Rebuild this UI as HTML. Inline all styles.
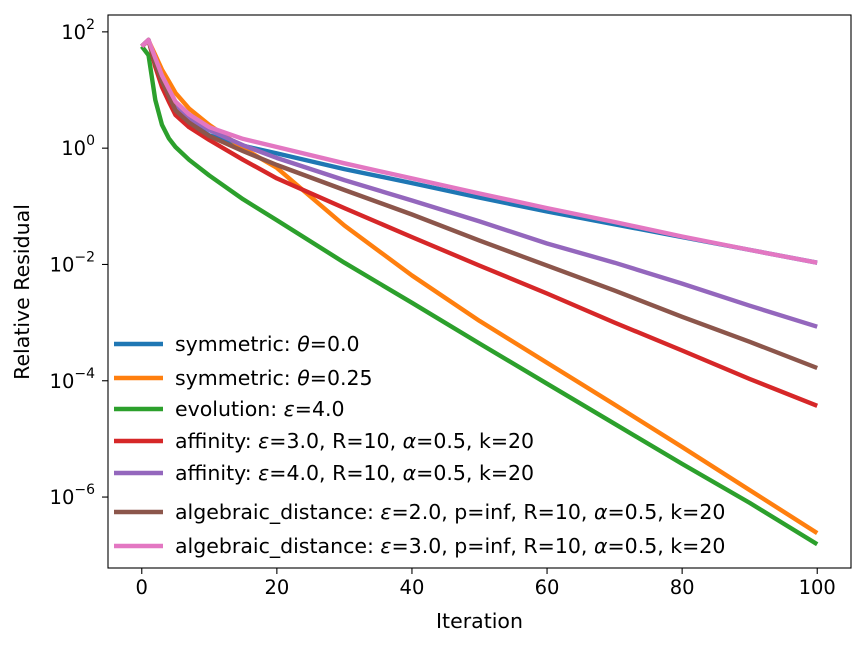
<!DOCTYPE html>
<html><head><meta charset="utf-8"><style>
body{margin:0;background:#fff;}
svg text{font-family:"DejaVu Sans","Liberation Sans",sans-serif;}
</style></head><body>
<svg id="chart" width="866" height="647" viewBox="0 0 866 647" xmlns="http://www.w3.org/2000/svg">
<rect width="866" height="647" fill="#fff"/>
<g id="plot"></g>
<g id="axes"></g>
<g id="legend"></g>
</svg>
<script>
const iters=[0,1,2,3,4,5,7,10,15,20,30,40,50,60,70,80,90,100];
const symm0=[1.75,1.86,1.5,1.2,0.98,0.68,0.45,0.22,0.04,-0.09,-0.36,-0.6,-0.85,-1.09,-1.31,-1.53,-1.75,-1.97];
const symm25=[1.75,1.85,1.6,1.35,1.15,0.95,0.68,0.4,0.0,-0.34,-1.33,-2.19,-2.97,-3.69,-4.41,-5.14,-5.88,-6.62];
const evol=[1.75,1.6,0.83,0.4,0.17,0.02,-0.2,-0.47,-0.88,-1.24,-1.97,-2.66,-3.36,-4.05,-4.74,-5.43,-6.1,-6.81];
const aff3=[1.75,1.86,1.4,1.05,0.8,0.57,0.36,0.14,-0.2,-0.52,-1.03,-1.53,-2.02,-2.5,-3.0,-3.48,-3.97,-4.43];
const aff4=[1.75,1.86,1.5,1.2,0.98,0.72,0.52,0.31,0.05,-0.17,-0.55,-0.9,-1.26,-1.64,-1.97,-2.33,-2.71,-3.07];
const alg2=[1.75,1.86,1.45,1.15,0.9,0.65,0.44,0.21,-0.05,-0.29,-0.72,-1.14,-1.59,-2.02,-2.45,-2.9,-3.33,-3.78];
const alg3=[1.75,1.86,1.55,1.25,1.02,0.8,0.58,0.36,0.16,0.02,-0.26,-0.52,-0.78,-1.03,-1.27,-1.52,-1.75,-1.97];
const seriesNames=[["symmetric: ","θ","=0.0"],["symmetric: ","θ","=0.25"],["evolution: ","ε","=4.0"],["affinity: ","ε","=3.0, R=10, ","α","=0.5, k=20"],["affinity: ","ε","=4.0, R=10, ","α","=0.5, k=20"],["algebraic_distance: ","ε","=2.0, p=inf, R=10, ","α","=0.5, k=20"],["algebraic_distance: ","ε","=3.0, p=inf, R=10, ","α","=0.5, k=20"]];
const xTicks=[0,20,40,60,80,100];
const yLabeled=[2,0,-2,-4,-6];

const colors=["#1f77b4","#ff7f0e","#2ca02c","#d62728","#9467bd","#8c564b","#e377c2"];
const allSeries=[symm0,symm25,evol,aff3,aff4,alg2,alg3];
const L=108,R=851,T=15,B=568;
const xMin=-5,xMax=105,yMin=-7.22,yMax=2.29;
const sx=v=>L+(v-xMin)/(xMax-xMin)*(R-L);
const sy=v=>B-(v-yMin)/(yMax-yMin)*(B-T);
const NS="http://www.w3.org/2000/svg";
function mk(tag,attrs,parent){const e=document.createElementNS(NS,tag);for(const k in attrs)e.setAttribute(k,attrs[k]);parent.appendChild(e);return e;}
const plot=document.getElementById('plot'),axes=document.getElementById('axes'),legend=document.getElementById('legend');
allSeries.forEach((s,i)=>{
  const d=s.map((v,j)=>(j?'L':'M')+sx(iters[j]).toFixed(1)+','+sy(v).toFixed(1)).join(' ');
  const p=mk('path',{d:d,fill:'none',stroke:colors[i],'stroke-width':4.4,'stroke-linejoin':'round'},plot);
  
  
});
const frame=mk('rect',{x:L,y:T,width:R-L,height:B-T,fill:'none',stroke:'#000','stroke-width':1.1},axes);


xTicks.forEach(t=>{
  const x=sx(t);
  mk('line',{x1:x,x2:x,y1:B,y2:B+6,stroke:'#000','stroke-width':1.1},axes);
  const tx=mk('text',{x:x,y:B+26,'font-size':19.5,'text-anchor':'middle'},axes);
  tx.textContent=t;
  
  
});
yLabeled.forEach(d=>{
  const y=sy(d);
  mk('line',{x1:L-6,x2:L,y1:y,y2:y,stroke:'#000','stroke-width':1.1},axes);
  const tx=mk('text',{x:L-13,y:y+7,'font-size':19.5,'text-anchor':'end'},axes);
  
  
  const a=mk('tspan',{},tx);a.textContent='10';
  const b=mk('tspan',{dy:-10,'font-size':14},tx);b.textContent=d<0?'−'+(-d):String(d);
});
const xt=mk('text',{x:(L+R)/2,y:628,'font-size':20.5,'text-anchor':'middle'},axes);
xt.textContent='Iteration';


const yt=mk('text',{x:0,y:0,'font-size':20.5,'text-anchor':'middle',transform:'translate(29,292) rotate(-90)'},axes);
yt.textContent='Relative Residual';


const legY=[344,378,409,441,473,512,546];
seriesNames.forEach((parts,i)=>{
  const g=mk('g',{},legend);
  
  
  mk('line',{x1:114,x2:163,y1:legY[i],y2:legY[i],stroke:colors[i],'stroke-width':4.4},g);
  const t=mk('text',{x:175,y:legY[i]+7,'font-size':20.5},g);
  parts.forEach((p,k)=>{const s=mk('tspan',k%2?{'font-style':'italic'}:{},t);s.textContent=p;});
});
</script>
</body></html>
